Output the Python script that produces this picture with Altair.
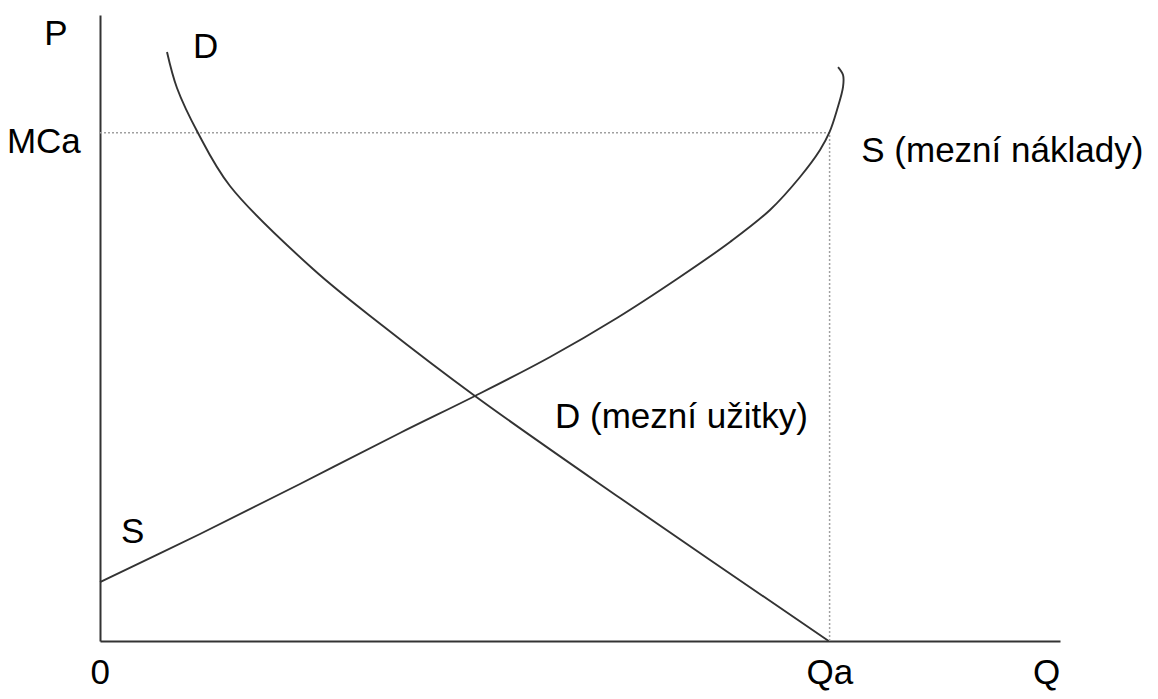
import altair as alt
import pandas as pd

# Demand curve D (marginal utility): quantity, price
d_q = [6.98, 8.02, 10.21, 13.54, 22.19, 29.48, 39.06, 54.17, 75.9]
d_p = [94.09, 88.34, 81.15, 72.68, 59.42, 50.32, 39.14, 22.84, 0.0]

# Supply curve S (marginal cost): quantity, price
s_q = [0.0, 10.42, 20.83, 31.25, 39.06, 46.88, 53.85, 60.10, 65.63, 69.79,
       72.92, 75.0, 76.0, 76.77, 77.40, 77.40, 76.88]
s_p = [9.42, 17.09, 25.08, 33.23, 39.14, 45.37, 51.60, 57.83, 63.74, 68.85,
       74.12, 78.43, 81.31, 84.82, 88.50, 90.42, 91.69]

qa = 76.0
mca = 81.2

label_text = ["P", "D", "MCa", "S (mezní náklady)", "D (mezní užitky)", "S", "0", "Qa", "Q"]
label_q = [-5.8, 9.7, -9.7, 79.3, 47.4, 2.2, -1.0, 73.6, 97.2]
label_p = [95.2, 93.1, 78.0, 76.5, 34.0, 15.65, -6.87, -6.87, -6.87]

curves = pd.DataFrame(
    {
        "q": d_q + s_q,
        "p": d_p + s_p,
        "curve": ["D"] * len(d_q) + ["S"] * len(s_q),
        "i": list(range(len(d_q))) + list(range(len(s_q))),
    }
)
labels = pd.DataFrame({"t": label_text, "q": label_q, "p": label_p})
guides = pd.DataFrame(
    {"q": [0.0, qa], "q2": [qa, qa], "p": [mca, 0.0], "p2": [mca, mca]}
)

xs = alt.Scale(domain=[0, 100], nice=False, zero=False)
ys = alt.Scale(domain=[0, 100], nice=False, zero=False)
xax = alt.Axis(labels=False, ticks=False, grid=False, title=None,
               domainColor="#333333", domainWidth=2)
yax = alt.Axis(labels=False, ticks=False, grid=False, title=None,
               domainColor="#333333", domainWidth=2)

base_axes = alt.Chart(guides).mark_rule(opacity=0).encode(
    x=alt.X("q:Q", scale=xs, axis=xax),
    y=alt.Y("p:Q", scale=ys, axis=yax),
)

dotted = alt.Chart(guides).mark_rule(
    color="#a0a0a0", strokeWidth=1.5, strokeDash=[2, 2]
).encode(
    x=alt.X("q:Q", scale=xs),
    x2="q2:Q",
    y=alt.Y("p:Q", scale=ys),
    y2="p2:Q",
)

lines = alt.Chart(curves).mark_line(
    color="#333333", strokeWidth=1.9, interpolate="catmull-rom"
).encode(
    x=alt.X("q:Q", scale=xs),
    y=alt.Y("p:Q", scale=ys),
    detail="curve:N",
    order="i:Q",
)

texts = alt.Chart(labels).mark_text(
    align="left", baseline="alphabetic", font="Liberation Sans",
    fontSize=35, color="black"
).encode(
    x=alt.X("q:Q", scale=xs),
    y=alt.Y("p:Q", scale=ys),
    text="t:N",
)

chart = alt.layer(base_axes, dotted, lines, texts).properties(
    width=960,
    height=626,
    autosize=alt.AutoSizeParams(type="none"),
    padding={"left": 92, "top": 7, "right": 90, "bottom": 50},
).configure_view(stroke=None)

chart.save("out.html", embed_options={"renderer": "svg", "actions": False})
